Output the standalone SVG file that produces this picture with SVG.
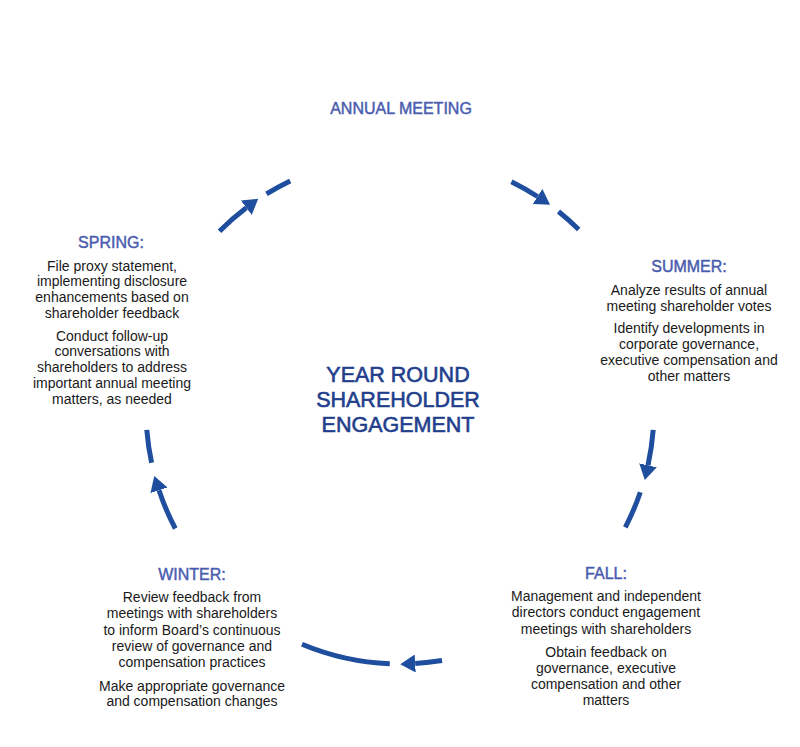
<svg xmlns="http://www.w3.org/2000/svg" width="800" height="747" viewBox="0 0 800 747">
<style>
.arc{fill:none;stroke:#1f4e9e;stroke-width:5;stroke-linecap:butt}
.hd{font-family:"Liberation Sans",Arial,sans-serif;font-size:16px;fill:#4a5cae;stroke:#4a5cae;stroke-width:0.45;text-anchor:middle}
.tx{font-family:"Liberation Sans",Arial,sans-serif;font-size:14px;fill:#1a1a1a;text-anchor:middle}
.ti{font-family:"Liberation Sans",Arial,sans-serif;font-size:21.5px;fill:#233f8c;stroke:#233f8c;stroke-width:0.6;text-anchor:middle}
</style>
<defs>
<marker id="ah" viewBox="0 0 15 18" refX="0" refY="9" markerWidth="15" markerHeight="18" markerUnits="userSpaceOnUse" orient="auto">
<path d="M0,0 L15,9 L0,18 z" fill="#1f4e9e"/>
</marker>
</defs>
<rect width="800" height="747" fill="#ffffff"/>
<g id="connectors">
<path class="arc" d="M219.5,231.3 A254,254 0 0 1 246.3,207.8" marker-end="url(#ah)"/>
<path class="arc" d="M266.5,193.9 A254,254 0 0 1 290.2,180.9"/>
<path class="arc" d="M511.4,181.7 A254,254 0 0 1 537.5,196.5" marker-end="url(#ah)"/>
<path class="arc" d="M558.5,211.5 A254,254 0 0 1 578.7,229.5"/>
<path class="arc" d="M653.2,429.9 A254,254 0 0 1 648.0,465.3" marker-end="url(#ah)"/>
<path class="arc" d="M640.3,492.3 A254,254 0 0 1 625.3,527.3"/>
<path class="arc" d="M442.0,660.5 A254,254 0 0 1 415.2,663.5" marker-end="url(#ah)"/>
<path class="arc" d="M389.8,663.8 A254,254 0 0 1 302.0,644.3"/>
<path class="arc" d="M175.3,528.5 A254,254 0 0 1 159.0,490.3" marker-end="url(#ah)"/>
<path class="arc" d="M151.6,462.8 A254,254 0 0 1 146.8,429.9"/>
</g>
<g id="center">
<text class="ti" x="398" y="382">YEAR ROUND</text>
<text class="ti" x="398" y="407">SHAREHOLDER</text>
<text class="ti" x="398" y="432">ENGAGEMENT</text>
</g>
<g id="annual-meeting">
<text class="hd" x="401" y="114">ANNUAL MEETING</text>
</g>
<g id="summer">
<text class="hd" x="689" y="272">SUMMER:</text>
<text class="tx" x="689" y="295">Analyze results of annual</text>
<text class="tx" x="689" y="311">meeting shareholder votes</text>
<text class="tx" x="689" y="333">Identify developments in</text>
<text class="tx" x="689" y="349">corporate governance,</text>
<text class="tx" x="689" y="365">executive compensation and</text>
<text class="tx" x="689" y="381">other matters</text>
</g>
<g id="fall">
<text class="hd" x="606" y="579">FALL:</text>
<text class="tx" x="606" y="601">Management and independent</text>
<text class="tx" x="606" y="617">directors conduct engagement</text>
<text class="tx" x="606" y="634">meetings with shareholders</text>
<text class="tx" x="606" y="657">Obtain feedback on</text>
<text class="tx" x="606" y="673">governance, executive</text>
<text class="tx" x="606" y="689">compensation and other</text>
<text class="tx" x="606" y="705">matters</text>
</g>
<g id="winter">
<text class="hd" x="192" y="580">WINTER:</text>
<text class="tx" x="192" y="602">Review feedback from</text>
<text class="tx" x="192" y="618">meetings with shareholders</text>
<text class="tx" x="192" y="635">to inform Board’s continuous</text>
<text class="tx" x="192" y="651">review of governance and</text>
<text class="tx" x="192" y="667">compensation practices</text>
<text class="tx" x="192" y="691">Make appropriate governance</text>
<text class="tx" x="192" y="706">and compensation changes</text>
</g>
<g id="spring">
<text class="hd" x="111" y="248">SPRING:</text>
<text class="tx" x="112" y="271">File proxy statement,</text>
<text class="tx" x="112" y="286">implementing disclosure</text>
<text class="tx" x="112" y="302">enhancements based on</text>
<text class="tx" x="112" y="318">shareholder feedback</text>
<text class="tx" x="112" y="341">Conduct follow-up</text>
<text class="tx" x="112" y="356">conversations with</text>
<text class="tx" x="112" y="372">shareholders to address</text>
<text class="tx" x="112" y="388">important annual meeting</text>
<text class="tx" x="112" y="404">matters, as needed</text>
</g>
</svg>
